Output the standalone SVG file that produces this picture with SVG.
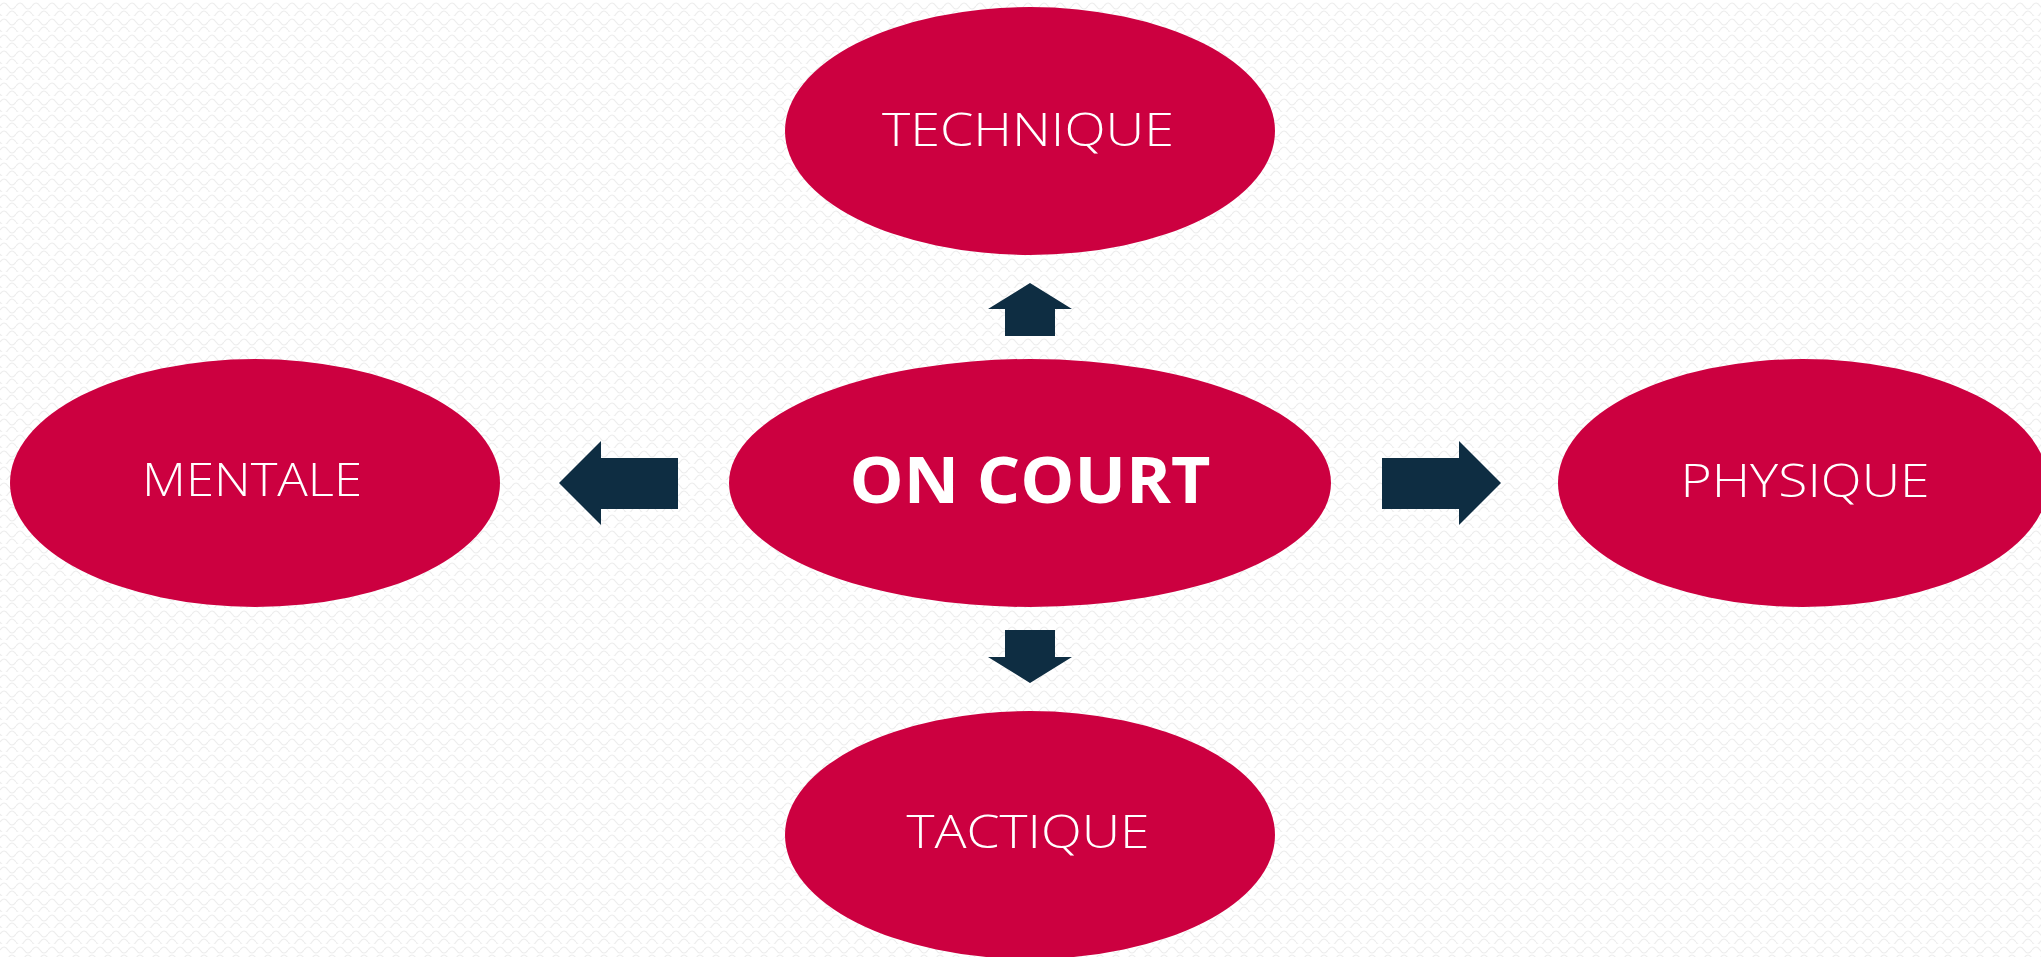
<svg xmlns="http://www.w3.org/2000/svg" width="2041" height="957" viewBox="0 0 2041 957">
  <defs>
    <pattern id="bg" width="16" height="16" patternUnits="userSpaceOnUse">
      <rect width="16" height="16" fill="#ffffff"/>
      <path d="M0 6 Q4 0 8 6 Q12 12 16 6 M0 14 Q4 20 8 14 Q12 8 16 14" fill="none" stroke="#ededed" stroke-width="1.2"/>
    </pattern>
  </defs>
  <style>
    .node { fill: #CC0040; }
    .arrow { fill: #0E2D42; }
    .lbl { fill: #ffffff; font-family: "Open Sans", "Lato", "Liberation Sans", sans-serif; font-weight: 300; font-size: 46px; text-anchor: middle; }
    .main { fill: #ffffff; font-family: "Open Sans", "Liberation Sans", sans-serif; font-weight: 700; font-size: 64px; text-anchor: middle; }
  </style>
  <rect width="2041" height="957" fill="url(#bg)"/>

  <g id="connectors">
    <polygon class="arrow" points="1030,283 1072,309 1055,309 1055,336 1005,336 1005,309 988,309"/>
    <polygon class="arrow" points="1030,683 1072,657 1055,657 1055,630 1005,630 1005,657 988,657"/>
    <polygon class="arrow" points="559,483 601,441 601,458 678,458 678,509 601,509 601,525"/>
    <polygon class="arrow" points="1501,483 1459,441 1459,458 1382,458 1382,509 1459,509 1459,525"/>
  </g>

  <g id="node-oncourt">
    <ellipse class="node" cx="1030" cy="483" rx="301" ry="124"/>
    <text class="main" x="1030" y="503" textLength="361" lengthAdjust="spacingAndGlyphs">ON COURT</text>
  </g>
  <g id="node-technique">
    <ellipse class="node" cx="1030" cy="131" rx="245" ry="124"/>
    <text class="lbl" x="1028" y="146" textLength="292" lengthAdjust="spacingAndGlyphs">TECHNIQUE</text>
  </g>
  <g id="node-mentale">
    <ellipse class="node" cx="255" cy="483" rx="245" ry="124"/>
    <text class="lbl" x="252" y="496" textLength="220" lengthAdjust="spacingAndGlyphs">MENTALE</text>
  </g>
  <g id="node-physique">
    <ellipse class="node" cx="1803" cy="483" rx="245" ry="124"/>
    <text class="lbl" x="1805" y="497" textLength="249" lengthAdjust="spacingAndGlyphs">PHYSIQUE</text>
  </g>
  <g id="node-tactique">
    <ellipse class="node" cx="1030" cy="835" rx="245" ry="124"/>
    <text class="lbl" x="1028" y="848" textLength="243" lengthAdjust="spacingAndGlyphs">TACTIQUE</text>
  </g>
</svg>
